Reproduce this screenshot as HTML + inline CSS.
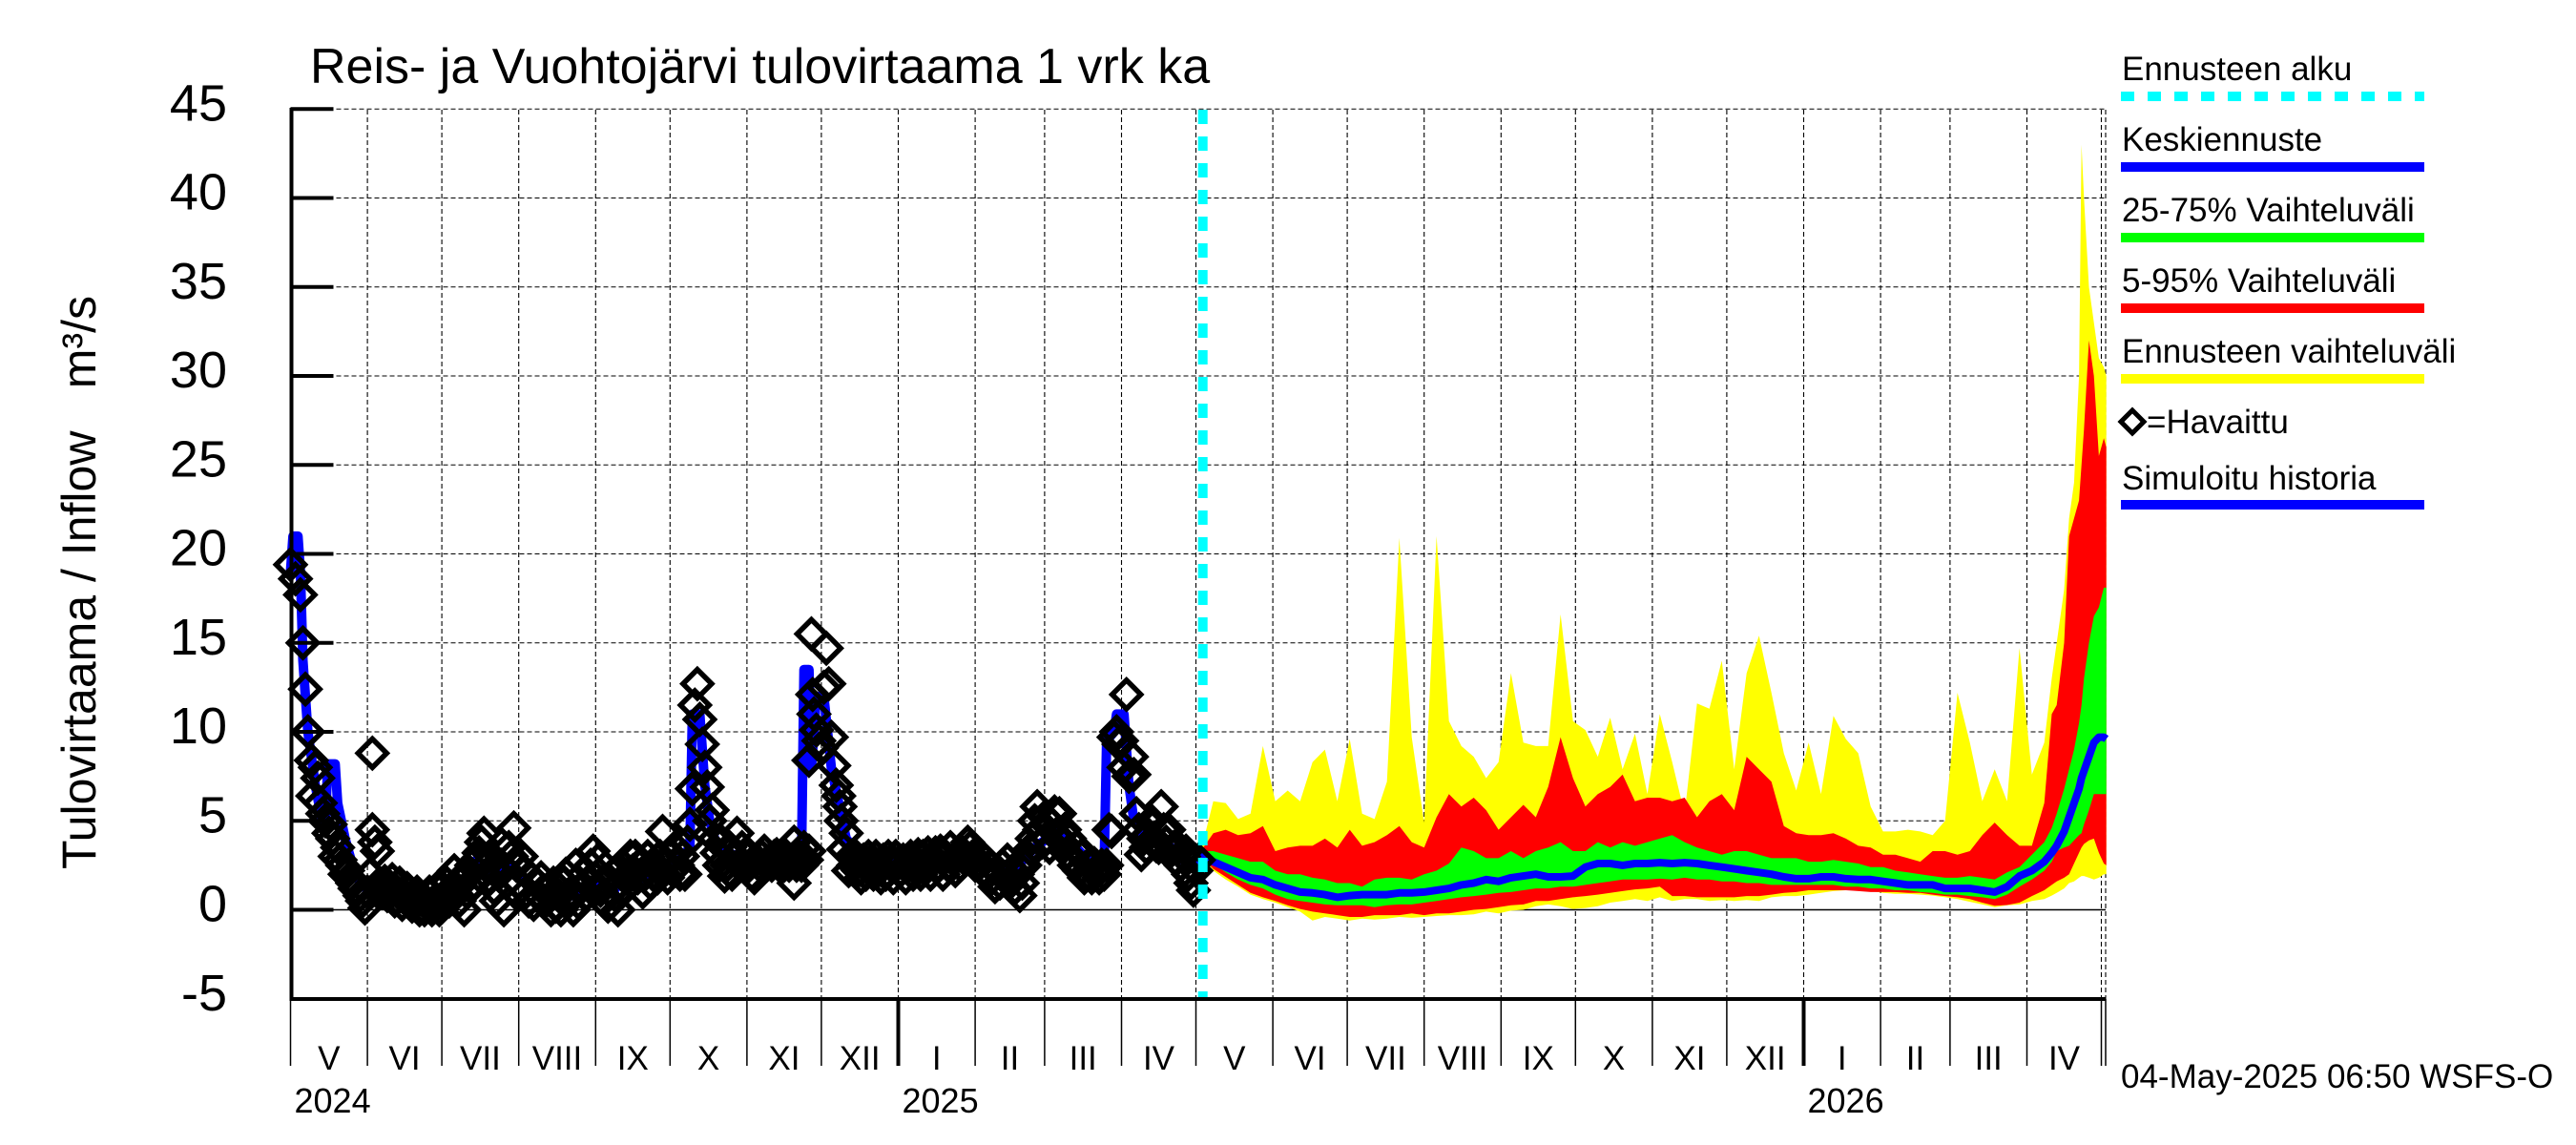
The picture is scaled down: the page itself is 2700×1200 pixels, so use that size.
<!DOCTYPE html>
<html><head><meta charset="utf-8"><title>Reis- ja Vuohtojärvi tulovirtaama</title>
<style>html,body{margin:0;padding:0;background:#fff}svg{display:block;font-family:"Liberation Sans",Arial,sans-serif}</style>
</head><body>
<svg id="chart" xmlns="http://www.w3.org/2000/svg" width="2700" height="1200" viewBox="0 0 2700 1200">
<rect width="2700" height="1200" fill="#fff"/>
<g id="grid"></g>
<g id="bands"></g>
<g id="series"></g>
<g id="axes"></g>
<text x="325" y="87" font-size="52">Reis- ja Vuohtojärvi tulovirtaama 1 vrk ka</text>
<text transform="translate(100,911) rotate(-90)" font-size="50">Tulovirtaama / Inflow</text>
<text transform="translate(100,310) rotate(-90)" font-size="50" text-anchor="end">m³/s</text>
<text x="2223" y="1140" font-size="35">04-May-2025 06:50 WSFS-O</text>
<g id="legend">
<text x="2224" y="84" font-size="35">Ennusteen alku</text>
<line x1="2223" y1="101" x2="2541" y2="101" stroke="#00ffff" stroke-width="10" stroke-dasharray="14 14"/>
<text x="2224" y="158" font-size="35">Keskiennuste</text>
<line x1="2223" y1="175" x2="2541" y2="175" stroke="#0000ff" stroke-width="10"/>
<text x="2224" y="232" font-size="35">25-75% Vaihteluväli</text>
<line x1="2223" y1="249" x2="2541" y2="249" stroke="#00ff00" stroke-width="10"/>
<text x="2224" y="306" font-size="35">5-95% Vaihteluväli</text>
<line x1="2223" y1="323" x2="2541" y2="323" stroke="#ff0000" stroke-width="10"/>
<text x="2224" y="380" font-size="35">Ennusteen vaihteluväli</text>
<line x1="2223" y1="397" x2="2541" y2="397" stroke="#ffff00" stroke-width="10"/>
<path d="M2235,430 L2247,442 L2235,454 L2223,442 Z" fill="none" stroke="#000" stroke-width="5"/>
<text x="2250" y="454" font-size="35">=Havaittu</text>
<text x="2224" y="513" font-size="35">Simuloitu historia</text>
<line x1="2223" y1="529" x2="2541" y2="529" stroke="#0000ff" stroke-width="10"/>
</g>
</svg>
<script>
// ---- data (day index from 1-May-2024) ----
const yTicks = [-5, 0, 5, 10, 15, 20, 25, 30, 35, 40, 45];
const monthLabels = ["V","VI","VII","VIII","IX","X","XI","XII","I","II","III","IV","V","VI","VII","VIII","IX","X","XI","XII","I","II","III","IV"];
const yearLabels = ["2024","2025","2026"];
const forecastStartDay = 367;

const obsDays = [0,2,4,5,6,7,8.4,9,11,13,15.5,18,22,27,30,33,33,35,41,48,54,60,66,70,76,78,86,89,90,94,102,107,116,122,125,132,139,145,150,157,161,162,163,164,165,166,168,170,175,180,186,187,191,196,203,203,209,209,210,210.5,212,214,216,217,218,219,221,221.5,223,224,225,230,238,245,253,262,273,278,284,294,298,301,310,315,320,324,331,332,334,337,339,340,341,343,349,351,355,361,364,366];
const obsVals = [19.4,18.6,17.7,15.0,12.4,10.0,8.4,6.4,7.4,5.4,4.3,3.0,2.0,1.1,0.1,8.8,4.5,3.3,1.7,0.6,0,0,2.2,0,3.2,4.3,0,3.0,4.6,2.2,1.1,0.2,0.4,3.3,1.1,0,3.0,1.5,4.4,2.0,4.8,6.8,11.5,12.7,10.7,9.3,6.9,5.6,1.9,4.3,2.0,1.8,3.3,3.1,3.8,1.5,3.3,8.4,15.5,12.1,10.1,9.1,14.7,12.7,9.7,8.1,6.4,5.8,3.4,4.3,2.2,1.8,1.8,2.6,3.1,3.3,3.8,2.6,1.3,0.8,3.4,5.8,5.4,2.9,1.8,2.6,4.4,9.7,9.3,12.1,8.6,7.6,5.4,3.1,3.6,5.8,3.3,3.3,1.1,2.8];

const obsDays2 = [10,12,14,16,17,19,20,21,23,24,25,26,28,29,31,32,34,36,37,38,39,40,42,43,44,45,46,47,49,50,51,52,53,55,56,57,58,59,61,62,63,64,65,67,68,69,71,72,73,74,75,77,79,80,81,82,83,84,85,87,88,91,92,93,95,96,97,98,99,100,101,103,104,105,106,108,109,110,111,112,113,114,115,117,118,119,120,121,123,124,126,127,128,129,130,131,133,134,135,136,137,138,140,141,142,143,144,146,147,148,149,151,152,153,154,155,156,158,159,160,167,169,171,172,173,174,176,177,178,179,181,182,183,184,185,188,189,190,192,193,194,195,197,198,199,200,201,202,204,205,206,207,208,211,213,215,220,222,226,227,228,229,231,232,233,234,235,236,237,239,240,241,242,243,244,246,247,248,249,250,251,252,254,255,256,257,258,259,260,261,263,264,265,266,267,268,269,270,271,272,274,275,276,277,279,280,281,282,283,285,286,287,288,289,290,291,292,293,295,296,297,299,300,302,303,304,305,306,307,308,309,311,312,313,314,316,317,318,319,321,322,323,325,326,327,328,329,330,333,335,336,338,342,344,345,346,347,348,350,352,353,354,356,357,358,359,360,362,363,365];
const obsVals2 = [8.0,6.0,5.0,4.8,4.0,3.5,2.8,2.5,2.2,1.8,1.5,1.2,0.8,0.5,1.0,2.0,3.8,1.5,1.0,1.6,0.8,1.2,0.5,1.0,1.5,0.3,0.8,1.2,0.2,0.5,1.0,0.0,0.6,0.3,1.0,0.0,0.5,1.2,0.3,0.8,1.5,0.5,1.0,1.2,0.5,1.8,1.0,2.0,2.5,1.5,2.8,3.8,2.5,1.8,3.0,1.2,0.5,2.0,2.5,1.5,3.5,2.5,1.5,3.0,1.0,0.5,1.8,0.3,1.5,0.8,1.8,0.5,1.2,0,1.5,0.8,0,1.5,2.0,0.5,1.0,0,2.5,1.2,2.0,0.8,1.5,2.5,1.8,2.8,0.5,1.5,0.2,1.0,2.0,0.8,1.5,2.5,1.2,2.0,3.0,2.2,1.8,2.5,1.0,2.0,3.0,2.0,2.5,1.8,3.0,2.5,1.8,3.0,2.2,3.5,2.5,3.0,2.0,3.8,8,5.0,4.0,3.2,2.5,3.8,2.5,3.5,2.0,3.0,2.5,3.5,2.5,3.0,2.5,2.8,2.5,3.0,2.5,2.8,2.5,3.0,2.5,2.8,2.5,3.0,2.5,2.8,2.5,3.0,2.5,3.5,2.8,11.0,9.5,12.5,7.0,5.0,3.0,2.5,3.0,2.2,2.8,2.0,3.0,2.5,2.0,3.0,2.2,2.8,2.0,3.0,2.5,1.8,3.0,2.2,2.8,1.8,2.5,3.0,2.0,2.5,2.0,3.0,2.5,3.2,2.0,2.8,3.2,2.5,2.0,3.0,2.5,3.5,2.8,2.2,3.0,2.5,3.2,2.8,3.5,3.0,2.5,3.2,2.2,2.8,2.0,2.5,1.8,2.2,1.5,2.5,1.8,2.8,1.5,2.2,1.2,2.0,1.5,2.5,3.0,4.0,5.0,4.5,3.8,5.2,4.0,3.5,4.8,5.5,4.2,3.8,4.5,3.2,4.0,2.5,3.5,2.2,3.0,2.0,2.5,1.8,2.2,1.8,2.5,2.0,2.5,4.5,10.0,9.5,8.0,7.5,4.5,4.0,3.5,4.2,5.0,4.0,3.5,4.5,3.8,4.5,3.5,2.8,3.5,2.5,3.0,2.0,1.5,2.2];

const simDays = [0,1,3,4,5,6,7,8,10,12,14,15,18,19,22,25,28,32,40,45,50,55,60,65,70,75,80,85,90,95,100,105,110,115,120,125,130,135,140,145,150,155,158,161,162,165,167,169,172,180,190,200,206,207,209,210,212,215,218,221,224,230,245,260,275,290,300,310,320,328,329,332,333,336,338,340,345,355,362,367];
const simVals = [19,21,21,19,14,12,10,9,7,5.5,4.5,8.2,8.2,6,4,2.5,1.5,1,1,0.8,0.5,0.3,0.5,1.2,1,2.8,2,2,2.5,1.5,1,0.5,0.5,1,1.5,1.5,1,2,1.5,2,2,2.5,3,3.5,11,11,7,5,3.5,3,2.5,2.5,3,13.5,13.5,8,12,12,8,6,4,3,2.5,2.5,3,2,3.5,4.5,3,2.5,9.5,10,11,11,7,5,4,3.5,2.5,2.8];

const fcDays = [367,372,377,382,387,392,397,402,407,412,417,422,427,432,437,442,447,452,457,462,467,472,477,482,487,492,497,502,507,512,517,522,527,532,537,542,547,552,557,562,567,572,577,582,587,592,597,602,607,612,617,622,627,632,637,642,647,652,657,662,667,672,677,682,687,692,697,702,707,710,712,715,717,719,721,722,723,725,727,729,731,732];
const fcMax = [3.3,6.1,6.0,5.1,5.4,9.2,6.1,6.7,6.1,8.3,9.0,6.1,9.6,5.4,5.1,7.2,20.9,9.7,4.9,21,10.6,9.2,8.6,7.4,8.3,13.3,9.4,9.2,9.2,16.6,10.6,10.1,8.6,10.8,7.9,9.9,6.5,11.0,8.3,5.4,11.6,11.3,14.0,7.9,13.3,15.4,12.2,8.8,6.7,9.4,6.5,10.9,9.6,8.8,5.8,4.4,4.4,4.5,4.4,4.2,5.0,12.2,9.4,6.1,7.9,6.1,14.7,7.6,9.4,13,15,18,22,24,30,43,40,35,33,31,30.5,30];
const fcP95 = [3.3,4.3,4.5,4.2,4.3,4.7,3.3,3.5,3.6,3.6,4.0,3.5,4.5,3.6,3.8,4.2,4.7,3.8,3.5,5.2,6.5,5.8,6.3,5.6,4.5,5.2,5.9,5.2,6.9,9.7,7.4,5.8,6.5,6.9,7.6,6.1,6.3,6.3,6.1,6.3,5.2,6.1,6.5,5.6,8.6,7.9,7.2,4.7,4.3,4.2,4.2,4.3,4.0,3.6,3.5,3.1,3.1,2.9,2.7,3.3,3.3,3.1,3.3,4.2,4.9,4.2,3.6,3.6,6.0,11,11.5,15,21,22,23,25,27,32,30,25.5,26.5,26];
const fcP75 = [3.3,3.3,3.1,2.9,2.7,2.7,2.2,2.0,2.0,1.8,1.7,1.5,1.5,1.3,1.7,1.8,1.8,1.7,2.0,2.2,2.6,3.5,3.3,2.9,2.9,3.3,2.9,3.3,3.5,3.8,3.3,3.3,3.8,3.5,3.8,3.6,3.8,4.0,4.2,3.8,3.5,3.3,3.1,3.3,3.3,3.1,2.9,2.9,2.9,2.7,2.7,2.8,2.7,2.6,2.4,2.4,2.2,2.1,2.0,1.9,1.8,1.8,1.9,1.8,1.7,2.1,2.4,3.1,3.8,4.6,5.4,6.8,7.9,9,10.5,11.5,13,15,16.5,17,18.1,18.1];
const fcMed = [3.2,2.7,2.4,2.1,1.8,1.7,1.4,1.2,1.0,0.95,0.85,0.7,0.8,0.85,0.85,0.85,0.95,0.95,1.0,1.1,1.2,1.4,1.5,1.7,1.6,1.8,1.9,2.0,1.85,1.85,1.9,2.4,2.6,2.6,2.5,2.6,2.6,2.65,2.6,2.65,2.6,2.5,2.4,2.3,2.2,2.1,2.0,1.85,1.75,1.75,1.85,1.85,1.75,1.7,1.7,1.6,1.5,1.4,1.4,1.4,1.2,1.2,1.2,1.1,1.0,1.3,1.9,2.2,2.7,3.2,3.6,4.4,5.2,6,6.8,7.4,7.8,8.6,9.4,9.7,9.7,9.6];
const fcP25 = [3.1,2.6,2.1,1.7,1.4,1.2,0.85,0.6,0.5,0.4,0.3,0.25,0.25,0.25,0.15,0.25,0.3,0.3,0.4,0.5,0.6,0.7,0.77,0.85,0.95,1.0,1.1,1.2,1.2,1.3,1.3,1.4,1.5,1.6,1.7,1.7,1.7,1.75,1.7,1.8,1.7,1.7,1.6,1.6,1.5,1.5,1.4,1.4,1.4,1.4,1.4,1.4,1.3,1.3,1.2,1.2,1.1,1.1,1.0,0.95,0.85,0.85,0.77,0.7,0.6,0.85,1.3,1.7,2.2,2.7,3.3,3.5,3.6,3.9,4.2,4.3,4.8,5.6,6.5,6.5,6.5,6.5];
const fcP5 = [3.0,2.3,1.85,1.4,0.95,0.7,0.5,0.25,0.05,-0.1,-0.2,-0.3,-0.4,-0.4,-0.3,-0.3,-0.3,-0.2,-0.3,-0.2,-0.2,-0.1,0,0.05,0.15,0.25,0.3,0.5,0.5,0.6,0.7,0.77,0.85,0.95,1.05,1.15,1.2,1.3,0.77,0.77,0.7,0.7,0.7,0.7,0.77,0.77,0.85,0.95,1.0,1.1,1.1,1.1,1.1,1.05,1.0,1.0,1.0,0.95,0.95,0.85,0.77,0.7,0.6,0.4,0.23,0.27,0.4,0.77,1.1,1.4,1.6,1.8,2.0,2.6,3.2,3.5,3.7,3.9,4.0,3.2,2.6,2.5];
const fcMin = [3.0,2.2,1.7,1.3,0.85,0.6,0.4,0.15,-0.1,-0.6,-0.4,-0.5,-0.6,-0.5,-0.55,-0.5,-0.4,-0.45,-0.4,-0.35,-0.3,-0.3,-0.25,-0.1,-0.2,-0.05,0.0,0.2,0.3,0.2,0.05,0.1,0.2,0.4,0.5,0.6,0.5,0.7,0.5,0.6,0.6,0.5,0.55,0.5,0.55,0.5,0.7,0.77,0.77,0.85,0.95,1.05,1.1,1.1,1.05,0.95,0.9,0.9,0.85,0.8,0.7,0.6,0.45,0.3,0.15,0.25,0.3,0.5,0.6,0.8,0.95,1.2,1.5,1.6,1.8,1.9,1.9,1.8,1.7,1.8,2.0,2.0];

// ---- scales ----
const X0 = 304.5, PXDAY = 2.6, XR = 2207;
const Y0 = 953.5, PXV = 18.65, YT = 115, YB = 1047;
function xs(d){ return X0 + PXDAY * d; }
function ys(v){ return Y0 - PXV * v; }
const NS = "http://www.w3.org/2000/svg";
function mk(tag, attrs, parent){ const e = document.createElementNS(NS, tag); for (const k in attrs) e.setAttribute(k, attrs[k]); parent.appendChild(e); return e; }

const grid = document.getElementById('grid');
const axes = document.getElementById('axes');
const bands = document.getElementById('bands');
const series = document.getElementById('series');

const base = Date.UTC(2024,4,1);
const monthStarts = [];
for (let i = 0; i <= 24; i++) { monthStarts.push(Math.round((Date.UTC(2024, 4 + i, 1) - base) / 86400000)); }

yTicks.forEach(function(v){
  const y = ys(v);
  if (v > -5) {
    const gl = mk('line', {x1: X0, y1: y, x2: XR, y2: y, stroke: '#000', 'stroke-width': v === 0 ? 1.5 : 1.1, 'stroke-dasharray': v === 0 ? 'none' : '5 3'}, grid);
    
    
    const tk = mk('line', {x1: X0, y1: y, x2: X0 + 45, y2: y, stroke: '#000', 'stroke-width': 4}, axes);
    
    
  }
  const t = mk('text', {x: 238, y: y + 12, 'font-size': 54, 'text-anchor': 'end'}, axes);
  t.textContent = String(v);
  
  
});

monthStarts.forEach(function(d, i){
  const x = xs(d);
  if (i > 0) {
    const gl = mk('line', {x1: x, y1: YT, x2: x, y2: YB, stroke: '#000', 'stroke-width': 1.1, 'stroke-dasharray': '5 3'}, grid);
    
    
  }
  const isJan = (i % 12) === 8;
  const tk = mk('line', {x1: x, y1: YB, x2: x, y2: 1117, stroke: '#000', 'stroke-width': isJan ? 4 : 1.5}, axes);
  
  
  if (i < monthLabels.length) {
    const t = mk('text', {x: (xs(d) + xs(monthStarts[i+1])) / 2, y: 1121, 'font-size': 35, 'text-anchor': 'middle'}, axes);
    t.textContent = monthLabels[i];
    
    
  }
});
const edge = mk('line', {x1: XR, y1: YT, x2: XR, y2: YB, stroke: '#000', 'stroke-width': 1.1, 'stroke-dasharray': '5 3'}, grid);


const edgeT = mk('line', {x1: XR, y1: YB, x2: XR, y2: 1117, stroke: '#000', 'stroke-width': 1.5}, axes);



[0, 8, 20].forEach(function(mi, k){
  const t = mk('text', {x: xs(monthStarts[mi]) + 4, y: 1166, 'font-size': 36}, axes);
  t.textContent = yearLabels[k];
  
  
});

const ya = mk('line', {x1: X0 + 1, y1: YT - 2, x2: X0 + 1, y2: YB + 2, stroke: '#000', 'stroke-width': 4}, axes);


const xa = mk('line', {x1: X0, y1: YB, x2: XR, y2: YB, stroke: '#000', 'stroke-width': 4}, axes);



function bandPath(upper, lower){
  let d = '';
  fcDays.forEach(function(day, i){ d += (i ? 'L' : 'M') + xs(day).toFixed(1) + ',' + ys(upper[i]).toFixed(1); });
  for (let i = fcDays.length - 1; i >= 0; i--) d += 'L' + xs(fcDays[i]).toFixed(1) + ',' + ys(lower[i]).toFixed(1);
  return d + 'Z';
}
const bY = mk('path', {d: bandPath(fcMax, fcMin), fill: '#ffff00'}, bands);


const bR = mk('path', {d: bandPath(fcP95, fcP5), fill: '#ff0000'}, bands);


const bG = mk('path', {d: bandPath(fcP75, fcP25), fill: '#00ff00'}, bands);



function linePath(days, vals){
  return days.map(function(d, i){ return (i ? 'L' : 'M') + xs(d).toFixed(1) + ',' + ys(vals[i]).toFixed(1); }).join('');
}
const med = mk('path', {d: linePath(fcDays, fcMed), fill: 'none', stroke: '#0000ff', 'stroke-width': 8, 'stroke-linejoin': 'round'}, bands);



const sim = mk('path', {d: linePath(simDays, simVals), fill: 'none', stroke: '#0000ff', 'stroke-width': 10, 'stroke-linejoin': 'round'}, series);



function diamond(d, v){
  const cx = xs(d), cy = ys(v), r = 15;
  const p = mk('path', {d: 'M' + cx + ',' + (cy - r) + 'L' + (cx + r) + ',' + cy + 'L' + cx + ',' + (cy + r) + 'L' + (cx - r) + ',' + cy + 'Z', fill: 'none', stroke: '#000', 'stroke-width': 5.5}, series);
  
  
}
obsDays.forEach(function(d, i){ diamond(d, obsVals[i]); });
obsDays2.forEach(function(d, i){ diamond(d, obsVals2[i]); });

const fs = mk('line', {x1: xs(forecastStartDay) + 2, y1: YT, x2: xs(forecastStartDay) + 2, y2: YB, stroke: '#00ffff', 'stroke-width': 10, 'stroke-dasharray': '15 13'}, series);


</script>
</body></html>
